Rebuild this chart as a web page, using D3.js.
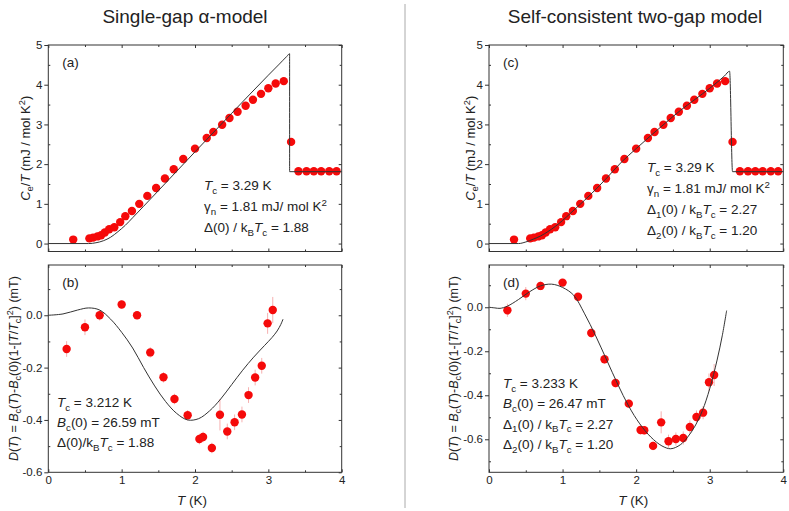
<!DOCTYPE html>
<html>
<head>
<meta charset="utf-8">
<script src="https://cdn.jsdelivr.net/npm/d3@7"></script>
<style>
  body { margin: 0; background: #fff; }
  svg { display: block; font-family: "Liberation Sans", Arial, sans-serif; }
</style>
</head>
<body>
<script>
// specific heat data (panels a and c)
const T_ce = [0.34, 0.56, 0.61, 0.67, 0.72, 0.77, 0.83, 0.90, 0.98, 1.05, 1.14, 1.24, 1.35, 1.47, 1.59, 1.71, 1.84, 2.00, 2.16, 2.25, 2.37, 2.47, 2.58, 2.69, 2.79, 2.90, 3.00, 3.10, 3.21, 3.31, 3.41, 3.52, 3.62, 3.72, 3.83, 3.93]
const ce = [0.10, 0.13, 0.15, 0.18, 0.21, 0.28, 0.36, 0.41, 0.54, 0.69, 0.82, 1.00, 1.20, 1.40, 1.64, 1.87, 2.13, 2.39, 2.66, 2.81, 2.99, 3.16, 3.32, 3.47, 3.62, 3.77, 3.91, 4.03, 4.09, 2.56, 1.82, 1.82, 1.82, 1.82, 1.82, 1.82]

// fits of Ce/T
const T_fitA = [0, 0.55, 0.65, 0.75, 0.85, 0.95, 1.05, 1.15, 1.3, 1.5, 2.0, 2.5, 3.0, 3.15, 3.25, 3.29, 3.29, 4.0]
const ce_fitA = [0, 0, 0.02, 0.07, 0.16, 0.30, 0.46, 0.65, 0.94, 1.33, 2.31, 3.28, 4.24, 4.52, 4.71, 4.78, 1.81, 1.81]
const T_fitC = [0, 0.4, 0.5, 0.6, 0.7, 0.8, 0.9, 1.0, 1.1, 1.2, 1.4, 1.6, 1.8, 2.0, 2.2, 2.4, 2.6, 2.8, 3.0, 3.1, 3.2, 3.27, 3.31, 4.0]
const ce_fitC = [0, 0, 0.04, 0.11, 0.19, 0.30, 0.43, 0.58, 0.75, 0.92, 1.27, 1.65, 2.05, 2.39, 2.72, 3.04, 3.35, 3.63, 3.91, 4.06, 4.22, 4.34, 1.81, 1.81]

// critical field deviation data (panels b and d)
const T_dev = [0.25, 0.50, 0.70, 1.00, 1.21, 1.39, 1.57, 1.72, 1.90, 2.06, 2.11, 2.23, 2.34, 2.44, 2.54, 2.64, 2.73, 2.82, 2.91, 2.99, 3.06]
const dev_b = [-0.129, -0.046, 0.0, 0.041, 0.0, -0.142, -0.237, -0.32, -0.382, -0.473, -0.465, -0.507, -0.38, -0.444, -0.409, -0.379, -0.305, -0.238, -0.193, -0.031, 0.02]
const err_b = [0.03, 0.03, 0.02, 0.015, 0.015, 0.02, 0.02, 0.02, 0.02, 0.02, 0.02, 0.02, 0.06, 0.03, 0.03, 0.03, 0.03, 0.03, 0.03, 0.04, 0.05]
const dev_d = [-0.014, 0.062, 0.097, 0.112, 0.048, -0.117, -0.236, -0.344, -0.438, -0.558, -0.559, -0.63, -0.523, -0.609, -0.599, -0.594, -0.544, -0.499, -0.479, -0.341, -0.308]
const err_d = [0.03, 0.03, 0.02, 0.015, 0.015, 0.02, 0.02, 0.02, 0.02, 0.02, 0.02, 0.02, 0.05, 0.03, 0.03, 0.03, 0.03, 0.03, 0.03, 0.04, 0.05]

const T_devFitB = [0, 0.2, 0.4, 0.55, 0.7, 0.85, 1.0, 1.15, 1.3, 1.45, 1.6, 1.75, 1.9, 2.05, 2.2, 2.35, 2.5, 2.65, 2.8, 2.95, 3.05, 3.12, 3.17, 3.2]
const devFitB = [0, 0.005, 0.02, 0.028, 0.02, -0.015, -0.065, -0.125, -0.2, -0.27, -0.33, -0.375, -0.4, -0.395, -0.365, -0.32, -0.265, -0.21, -0.16, -0.115, -0.085, -0.06, -0.035, -0.015]
const T_devFitD = [0, 0.08, 0.15, 0.25, 0.4, 0.55, 0.7, 0.85, 1.0, 1.15, 1.3, 1.45, 1.6, 1.75, 1.9, 2.05, 2.2, 2.35, 2.47, 2.6, 2.7, 2.8, 2.9, 3.0, 3.1, 3.17, 3.23]
const devFitD = [0, -0.003, -0.005, 0.005, 0.035, 0.07, 0.097, 0.105, 0.09, 0.055, -0.03, -0.13, -0.24, -0.35, -0.45, -0.53, -0.59, -0.63, -0.643, -0.625, -0.59, -0.54, -0.47, -0.37, -0.24, -0.13, -0.015]

// ticks
const xTicks = [0, 1, 2, 3, 4]
const xMinor = [0.5, 1.5, 2.5, 3.5]
const ceTicks = [0, 1, 2, 3, 4, 5]
const ceMinor = [0.5, 1.5, 2.5, 3.5, 4.5]
const devTicks = [-0.6, -0.4, -0.2, 0.0]
const devMinorB = [-0.5, -0.3, -0.1, 0.1]
const devMinorD = [-0.7, -0.5, -0.3, -0.1, 0.1]

const W = 789, H = 511
const ink = "#333"
const svg = d3.select("body").append("svg").attr("width", W).attr("height", H)

// text with italic / sub / sup pieces
function rich(g, x, y, parts, size, anchor) {
  const t = g.append("text").attr("x", x).attr("y", y)
    .attr("font-size", size).attr("fill", "#222")
    .attr("text-anchor", anchor || "start")
  let shift = 0
  parts.forEach(p => {
    const s = typeof p === "string" ? p : p[0]
    const st = typeof p === "string" ? "" : p[1]
    const ts = t.append("tspan").text(s)
    let target = 0
    if (st.includes("sub")) target = 0.28 * size
    if (st.includes("sup")) target = -0.38 * size
    if (target !== shift) ts.attr("dy", target - shift)
    shift = target
    if (target) ts.attr("font-size", size * 0.72)
    if (st.includes("i")) ts.attr("font-style", "italic")
  })
  return t
}

function axisG(g, gen, tx, ty) {
  const a = g.append("g").attr("transform", `translate(${tx},${ty})`).call(gen)
  a.select(".domain").remove()
  a.selectAll("line").attr("stroke", ink)
  a.selectAll("text").attr("font-size", 11.5).attr("fill", "#222")
    .attr("font-family", "'Liberation Sans', Arial, sans-serif")
  return a
}

const fmtDev = d => d.toFixed(1).replace("\u2212", "-")

const panels = [
  { tag: "(a)", x0: 48.3, x1: 341.7, y0: 45, y1: 251.5, dom: [-0.2, 5], yt: ceTicks, ym: ceMinor, fmt: d3.format("d"),
    pts: T_ce.map((t, i) => [t, ce[i]]), fit: T_fitA.map((t, i) => [t, ce_fitA[i]]), smooth: d3.curveMonotoneX, xlab: false, labX: 25,
    ylab: [["C", "i"], ["e", "sub"], "/", ["T", "i"], " (mJ / mol K", ["2", "sup"], ")"],
    notes: { x: 204, y: 190, dy: 21, lines: [
      [["T", "i"], ["c", "sub"], " = 3.29 K"],
      ["\u03b3", ["n", "sub"], " = 1.81 mJ/ mol K", ["2", "sup"]],
      ["\u0394(0) / k", ["B", "sub"], ["T", "i"], ["c", "sub"], " = 1.88"]] } },
  { tag: "(b)", x0: 48.3, x1: 341.7, y0: 265, y1: 472.3, dom: [-0.6, 0.192], yt: devTicks, ym: devMinorB, fmt: fmtDev,
    pts: T_dev.map((t, i) => [t, dev_b[i], err_b[i]]), fit: T_devFitB.map((t, i) => [t, devFitB[i]]), smooth: d3.curveCatmullRom, xlab: true, labX: 13,
    notes: { x: 57, y: 407, dy: 20, lines: [
      [["T", "i"], ["c", "sub"], " = 3.212 K"],
      [["B", "i"], ["c", "sub"], "(0) = 26.59 mT"],
      ["\u0394(0)/k", ["B", "sub"], ["T", "i"], ["c", "sub"], " = 1.88"]] } },
  { tag: "(c)", x0: 489, x1: 783.3, y0: 45, y1: 251.5, dom: [-0.2, 5], yt: ceTicks, ym: ceMinor, fmt: d3.format("d"),
    pts: T_ce.map((t, i) => [t, ce[i]]), fit: T_fitC.map((t, i) => [t, ce_fitC[i]]), smooth: d3.curveMonotoneX, xlab: false, labX: 470,
    ylab: [["C", "i"], ["e", "sub"], "/", ["T", "i"], " (mJ / mol K", ["2", "sup"], ")"],
    notes: { x: 647, y: 172, dy: 21, lines: [
      [["T", "i"], ["c", "sub"], " = 3.29 K"],
      ["\u03b3", ["n", "sub"], " = 1.81 mJ/ mol K", ["2", "sup"]],
      ["\u0394", ["1", "sub"], "(0) / k", ["B", "sub"], ["T", "i"], ["c", "sub"], " = 2.27"],
      ["\u0394", ["2", "sub"], "(0) / k", ["B", "sub"], ["T", "i"], ["c", "sub"], " = 1.20"]] } },
  { tag: "(d)", x0: 489, x1: 783.3, y0: 265, y1: 472.3, dom: [-0.75, 0.192], yt: devTicks, ym: devMinorD, fmt: fmtDev,
    pts: T_dev.map((t, i) => [t, dev_d[i], err_d[i]]), fit: T_devFitD.map((t, i) => [t, devFitD[i]]), smooth: d3.curveCatmullRom, xlab: true, labX: 453,
    notes: { x: 503, y: 388, dy: 20.3, lines: [
      [["T", "i"], ["c", "sub"], " = 3.233 K"],
      [["B", "i"], ["c", "sub"], "(0) = 26.47 mT"],
      ["\u0394", ["1", "sub"], "(0) / k", ["B", "sub"], ["T", "i"], ["c", "sub"], " = 2.27"],
      ["\u0394", ["2", "sub"], "(0) / k", ["B", "sub"], ["T", "i"], ["c", "sub"], " = 1.20"]] } }
]

const devLabel = [["D", "i"], "(", ["T", "i"], ") = ", ["B", "i"], ["c", "sub"], "(", ["T", "i"], ")-", ["B", "i"], ["c", "sub"],
  "(0)(1-[", ["T", "i"], "/", ["T", "i"], ["c", "sub"], "]", ["2", "sup"], ") (mT)"]

panels.forEach(p => {
  const g = svg.append("g")
  const x = d3.scaleLinear().domain([0, 4]).range([p.x0, p.x1])
  const y = d3.scaleLinear().domain(p.dom).range([p.y1, p.y0])

  // ticks
  axisG(g, d3.axisLeft(y).tickValues(p.yt).tickSize(4).tickPadding(2).tickFormat(p.fmt), p.x0, 0)
  axisG(g, d3.axisRight(y).tickValues(p.ym).tickSize(2).tickFormat(""), p.x0, 0)
  axisG(g, d3.axisLeft(y).tickValues(p.yt).tickSize(3).tickFormat(""), p.x1, 0)
  axisG(g, d3.axisLeft(y).tickValues(p.ym).tickSize(2).tickFormat(""), p.x1, 0)
  axisG(g, d3.axisBottom(x).tickValues(xTicks).tickSize(3).tickFormat(""), 0, p.y0)
  axisG(g, d3.axisBottom(x).tickValues(xMinor).tickSize(2).tickFormat(""), 0, p.y0)
  axisG(g, d3.axisTop(x).tickValues(xTicks).tickSize(3).tickFormat(""), 0, p.y1)
  axisG(g, d3.axisTop(x).tickValues(xMinor).tickSize(2).tickFormat(""), 0, p.y1)
  if (p.xlab) {
    axisG(g, d3.axisBottom(x).tickValues(xTicks).tickSize(0).tickPadding(4).tickFormat(d3.format("d")), 0, p.y1)
    rich(g, (p.x0 + p.x1) / 2 - 3, 505, [["T", "i"], " (K)"], 13.5, "middle")
  }

  g.append("rect").attr("x", p.x0).attr("y", p.y0)
    .attr("width", p.x1 - p.x0).attr("height", p.y1 - p.y0)
    .attr("fill", "none").attr("stroke", ink).attr("stroke-width", 1)

  // error bars
  g.append("g").selectAll("line").data(p.pts.filter(d => d[2])).enter().append("line")
    .attr("x1", d => x(d[0])).attr("x2", d => x(d[0]))
    .attr("y1", d => y(d[1] - d[2])).attr("y2", d => y(d[1] + d[2]))
    .attr("stroke", "#f6b0b0").attr("stroke-width", 1)

  g.append("g").selectAll("circle").data(p.pts).enter().append("circle")
    .attr("cx", d => x(d[0])).attr("cy", d => y(d[1])).attr("r", 4.2)
    .attr("fill", "#f50a0a")

  g.append("path").datum(p.fit)
    .attr("d", d3.line().x(d => x(d[0])).y(d => y(d[1])).curve(p.smooth))
    .attr("fill", "none").attr("stroke", ink).attr("stroke-width", 1)

  rich(g, p.x0 + 14, p.y0 + 22, [p.tag], 13.5)

  p.notes.lines.forEach((l, i) => rich(g, p.notes.x, p.notes.y + i * p.notes.dy, l, 13.5))

  const cy = (p.y0 + p.y1) / 2
  const lab = g.append("g").attr("transform", "rotate(-90)")
  rich(lab, -cy, p.labX + 4.5, p.ylab || devLabel, p.ylab ? 13 : 12.5, "middle")
})

// titles and divider
svg.append("text").attr("x", 185).attr("y", 23).attr("text-anchor", "middle")
  .attr("font-size", 19).attr("fill", "#222").text("Single-gap \u03b1-model")
svg.append("text").attr("x", 635).attr("y", 23).attr("text-anchor", "middle")
  .attr("font-size", 19).attr("fill", "#222").text("Self-consistent two-gap model")
svg.append("line").attr("x1", 405).attr("x2", 405).attr("y1", 4).attr("y2", 508)
  .attr("stroke", "#aaa").attr("stroke-width", 1)
</script>
</body>
</html>
